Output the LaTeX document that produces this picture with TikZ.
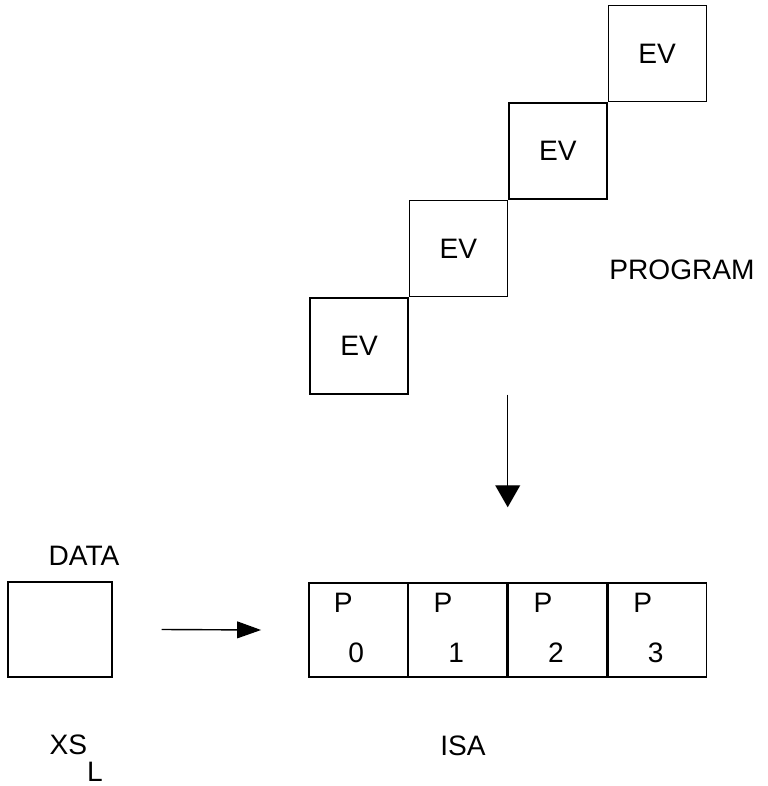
\documentclass[tikz,border=0pt]{standalone}
\usepackage{fontspec}
\setmainfont{Liberation Sans}
\usetikzlibrary{arrows.meta, positioning}

% processor label with a dropped index
\newcommand{\plab}[1]{\smash{\raisebox{0.425cm}{P\kern-3pt\raisebox{-1.225cm}{#1}}}\kern0.45cm}

\begin{document}
\begin{tikzpicture}[line width=1pt,
    font=\fontsize{20}{24}\selectfont,
    evcell/.style={draw, minimum width=2.45cm, minimum height=2.4cm, inner sep=0pt},
    pcell/.style={draw, minimum width=2.46cm, minimum height=2.35cm, inner sep=0pt},
    lab/.style={inner sep=0pt}]
  \useasboundingbox (0,0) rectangle (19.2,19.65);

  % Program: staircase of EV cells
  \node[evcell] (ev1) at (8.975, 11.0) {EV};
  \foreach \i [count=\j from 2] in {1,2,3} {
    \node[evcell, anchor=south west] (ev\j) at (ev\i.north east) {EV};
  }
  \node[lab] (prog) at (17.05, 12.9) {PROGRAM};

  % ISA: row of processors
  \node[pcell] (p0) at (8.95, 3.9) {\plab{0}};
  \foreach \i [count=\j from 1] in {0,1,2} {
    \node[pcell, right=0pt of p\i] (p\j) {\plab{\j}};
  }
  \node[lab] (isa) at (11.575, 1.0) {ISA};

  % Data store
  \node[draw, minimum width=2.6cm, minimum height=2.375cm] (data) at (1.5, 3.9125) {};
  \node[lab, above=0.375cm of data.north, xshift=0.6cm] (datalab) {DATA};
  \node[lab, anchor=base west] (xsl) at (1.225, 0.775) {XS\raisebox{-0.675cm}{L}};

  % Arrows
  \draw[-{Triangle[length=0.6cm, width=0.42cm]}]
    ([xshift=1.225cm]data.east) -- ([xshift=-1.175cm]p0.west);
  \draw[-{Triangle[length=0.55cm, width=0.62cm]}]
    (ev1.south -| p1.north east) -- ([yshift=1.875cm]p1.north east);
\end{tikzpicture}
\end{document}
